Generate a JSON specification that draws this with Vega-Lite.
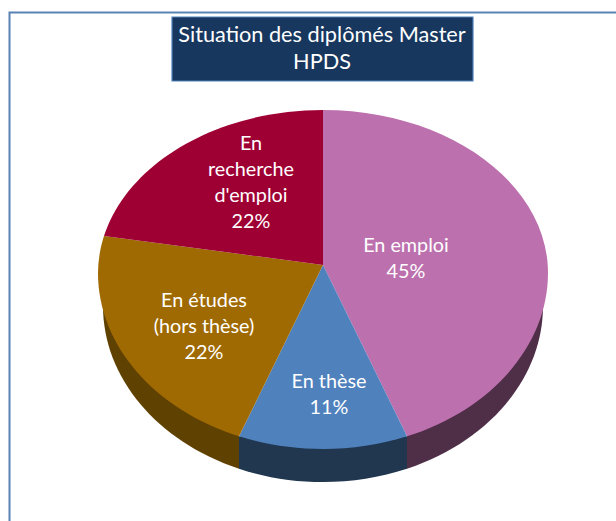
{
  "$schema": "https://vega.github.io/schema/vega-lite/v6.json",
  "width": 616,
  "height": 521,
  "padding": 0,
  "autosize": "none",
  "background": "#ffffff",
  "config": {"view": {"stroke": null}},
  "title": {
    "text": ["Situation des diplômés Master", "HPDS"],
    "color": "#ffffff",
    "font": "Lato",
    "fontSize": 21.7,
    "fontWeight": "normal",
    "lineHeight": 27,
    "anchor": "middle",
    "frame": "group",
    "dx": 14,
    "offset": -74
  },
  "data": {
    "values": [
      {"situation": "En emploi", "pct": 45, "label": "En emploi\n45%"},
      {"situation": "En thèse", "pct": 11, "label": "En thèse\n11%"},
      {"situation": "En études (hors thèse)", "pct": 22, "label": "En études\n(hors thèse)\n22%"},
      {"situation": "En recherche d'emploi", "pct": 22, "label": "En\nrecherche\nd'emploi\n22%"}
    ]
  },
  "resolve": {"scale": {"shape": "independent", "color": "independent"}},
  "layer": [
    {
      "data": {"values": [{"element": "cadre"}]},
      "mark": {"type": "point", "filled": false, "opacity": 1, "size": 4, "stroke": "#5B82B5", "strokeWidth": 2, "shape": "M-298.5,-248 L400,-248 L400,400 L-298.5,400 Z"}
    },
    {
      "data": {"values": [{"element": "titre"}]},
      "mark": {"type": "point", "filled": true, "opacity": 1, "size": 4, "fill": "#17375E", "stroke": "#4F81BD", "strokeWidth": 1.2, "shape": "M-136,-243.5 L165,-243.5 L165,-179.5 L-136,-179.5 Z"}
    },
    {
      "transform": [{"filter": "datum.situation !== \"En recherche d'emploi\""}],
      "mark": {"type": "point", "filled": true, "opacity": 1, "size": 4},
      "encoding": {
        "shape": {
          "field": "situation", "type": "nominal", "legend": null,
          "scale": {
            "domain": ["En emploi", "En thèse", "En études (hors thèse)"],
            "range": [
              "M99,208.2 A220,176,0,0,0,235,45.5 L99,175.8 Z",
              "M99,175.8 L99,208.2 A220,176,0,0,1,-69,208.2 L-69,175.8 Z",
              "M-69,175.8 L-69,208.2 A220,176,0,0,1,-205,45.5 Z"
            ]
          }
        },
        "color": {
          "field": "situation", "type": "nominal", "legend": null,
          "scale": {
            "domain": ["En emploi", "En thèse", "En études (hors thèse)"],
            "range": ["#4F2E48", "#20374F", "#5F4102"]
          }
        }
      }
    },
    {
      "mark": {"type": "point", "filled": true, "opacity": 1, "size": 4},
      "encoding": {
        "shape": {
          "field": "situation", "type": "nominal", "legend": null,
          "scale": {
            "domain": ["En emploi", "En thèse", "En études (hors thèse)", "En recherche d'emploi"],
            "range": [
              "M15,4.5 L15,-150.5 A225,163,0,0,1,240,12.5 A225,176,0,0,1,99,175.8 Z",
              "M15,4.5 L99,175.8 A225,176,0,0,1,-69,175.8 Z",
              "M15,4.5 L-69,175.8 A225,176,0,0,1,-210,12.5 A225,163,0,0,1,-204,-24.5 Z",
              "M15,4.5 L-204,-24.5 A225,163,0,0,1,15,-150.5 Z"
            ]
          }
        },
        "color": {
          "field": "situation", "type": "nominal", "legend": null,
          "scale": {
            "domain": ["En emploi", "En thèse", "En études (hors thèse)", "En recherche d'emploi"],
            "range": ["#BC71AE", "#4F81BD", "#9F6A02", "#9F0033"]
          }
        }
      }
    },
    {
      "transform": [{"filter": "datum.situation === 'En emploi'"}],
      "mark": {"type": "text", "font": "Lato", "fontSize": 19.8, "lineHeight": 26, "lineBreak": "\n", "fill": "#ffffff", "align": "center", "baseline": "middle", "dx": 98, "dy": -15},
      "encoding": {"text": {"field": "label"}}
    },
    {
      "transform": [{"filter": "datum.situation === 'En thèse'"}],
      "mark": {"type": "text", "font": "Lato", "fontSize": 19.8, "lineHeight": 26, "lineBreak": "\n", "fill": "#ffffff", "align": "center", "baseline": "middle", "dx": 21, "dy": 121},
      "encoding": {"text": {"field": "label"}}
    },
    {
      "transform": [{"filter": "datum.situation === 'En études (hors thèse)'"}],
      "mark": {"type": "text", "font": "Lato", "fontSize": 19.8, "lineHeight": 26, "lineBreak": "\n", "fill": "#ffffff", "align": "center", "baseline": "middle", "dx": -104, "dy": 40},
      "encoding": {"text": {"field": "label"}}
    },
    {
      "transform": [{"filter": "datum.situation === \"En recherche d'emploi\""}],
      "mark": {"type": "text", "font": "Lato", "fontSize": 19.8, "lineHeight": 26, "lineBreak": "\n", "fill": "#ffffff", "align": "center", "baseline": "middle", "dx": -57, "dy": -117},
      "encoding": {"text": {"field": "label"}}
    }
  ]
}
